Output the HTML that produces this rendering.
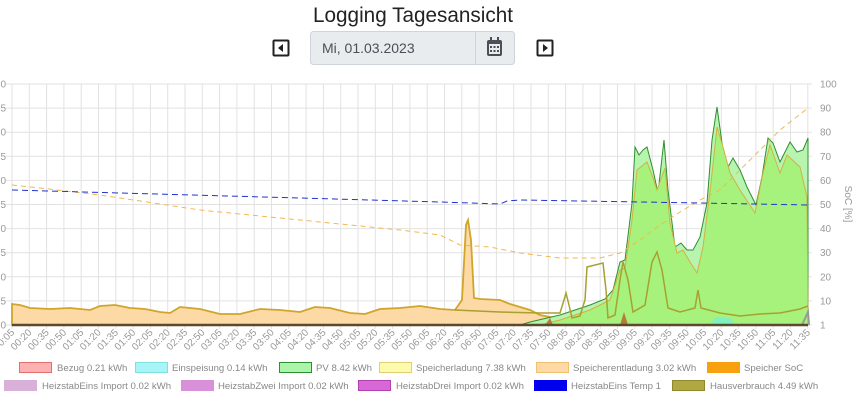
<!DOCTYPE html>
<html><head><meta charset="utf-8"><style>
body{margin:0;width:863px;height:420px;background:#fff;overflow:hidden;font-family:"Liberation Sans",sans-serif;}
svg{position:absolute;left:0;top:0}
</style></head><body>
<svg width="863" height="420" xmlns="http://www.w3.org/2000/svg" id="s">
<text x="413" y="22" font-size="21" text-anchor="middle" fill="#222" textLength="200" lengthAdjust="spacingAndGlyphs">Logging Tagesansicht</text>
<rect x="273.5" y="40.5" width="15" height="15" fill="none" stroke="#222" stroke-width="2" rx="1"/>
<path d="M283 44 L278 48 L283 52Z" fill="#222"/>
<rect x="537.5" y="40.5" width="15" height="15" fill="none" stroke="#222" stroke-width="2" rx="1"/>
<path d="M543 44 L548 48 L543 52Z" fill="#222"/>
<rect x="310.5" y="31.5" width="204" height="33" fill="#e9ecef" stroke="#ced4da" rx="3"/>
<line x1="475.5" y1="32" x2="475.5" y2="64" stroke="#ced4da"/>
<text x="322" y="53" font-size="14" fill="#495057">Mi, 01.03.2023</text>
<rect x="487" y="40" width="15" height="16" rx="2" fill="#495057"/>
<rect x="489" y="44" width="11" height="10" fill="#e9ecef"/>
<g fill="#495057"><rect x="490" y="46" width="2" height="2"/><rect x="493.5" y="46" width="2" height="2"/><rect x="497" y="46" width="2" height="2"/><rect x="490" y="50" width="2" height="2"/><rect x="493.5" y="50" width="2" height="2"/><rect x="497" y="50" width="2" height="2"/><rect x="490" y="37" width="2" height="4"/><rect x="497" y="37" width="2" height="4"/></g>
<g id="grid" stroke="#e2e2e2" stroke-width="1"></g>
<g id="lbl" font-size="10" fill="#999"></g>
<path d="M12 325 L12 304 L20 305 L30 308 L50 309 L70 308 L90 310 L100 306 L115 305 L130 308 L145 309 L160 312 L170 313 L180 307 L200 309 L220 314 L240 314 L260 309 L280 310 L300 312 L315 307 L330 308 L350 313 L365 314 L380 309 L400 308 L420 306 L440 309 L455 310 L462 300 L466 225 L468 220 L471 240 L474 298 L480 299 L500 300 L510 304 L530 310 L540 315 L555 318 L570 322 L570 325Z" fill="#fdd9a6" stroke="#cfa52a" stroke-width="1.8"/>
<path d="M520 325 L530 322 L560 315 L590 305 L605 299 L613 290 L620 262 L625 260 L632 203 L635 147 L639 155 L643 150 L647 147 L653 170 L658 193 L664 140 L668 190 L675 247 L681 243 L687 250 L693 250 L700 237 L707 203 L712 140 L717 107 L723 150 L728 167 L733 158 L740 170 L747 187 L756 205 L762 177 L768 138 L773 143 L780 162 L790 142 L797 152 L803 150 L808 138 L808 325Z" fill="#b6f4b0" stroke="#2f8f2f" stroke-width="1"/>
<path d="M540 325 L560 320 L590 310 L610 300 L620 270 L625 268 L632 220 L637 170 L647 162 L652 175 L657 190 L665 168 L670 223 L677 253 L683 250 L690 262 L697 273 L703 247 L711 183 L717 127 L723 147 L730 173 L740 190 L755 213 L763 173 L770 145 L780 173 L787 155 L800 167 L807 197 L808 325Z" fill="#a7f27c" stroke="#d4b040" stroke-width="1"/>
<path d="M455 310 L500 312 L540 313 L560 313 L564 300 L566 293 L569 305 L572 318 L580 316 L585 300 L587 267 L603 263 L606 290 L608 318 L615 315 L620 280 L623 262 L628 280 L633 312 L645 305 L652 262 L657 252 L662 270 L668 308 L680 312 L695 308 L698 290 L701 308 L720 313 L740 316 L760 314 L780 313 L800 309 L808 306" fill="none" stroke="#a8a030" stroke-width="1.5"/>
<path d="M545 325 L550 318 L553 325Z M620 325 L624 312 L628 325Z" fill="#b87a3a"/>
<path d="M710 325 L716 317 L730 318 L735 325Z" fill="#7ff0c0"/>
<path d="M802 325 L808 312 L809 325" fill="none" stroke="#999" stroke-width="2"/>
<line x1="12" y1="325" x2="808" y2="325" stroke="#5a4a2a" stroke-width="2.5"/>
<path d="M12 185 L40 188 L100 195 L200 210 L300 220 L400 230 L440 235 L460 245 L490 247 L520 253 L560 258 L600 258 L620 253 L640 240 L660 225 L680 212 L700 200 L720 190 L740 170 L760 150 L780 130 L808 108" fill="none" stroke="#f3b84a" stroke-width="1" stroke-dasharray="5,4"/>
<path d="M12 190 L120 193 L300 198 L440 202 L500 204 L507 201 L520 200 L700 203 L808 205" fill="none" stroke="#2233cc" stroke-width="1" stroke-dasharray="6,4"/>
<text transform="translate(845,204) rotate(90)" font-size="10" fill="#999" text-anchor="middle">SoC [%]</text>
<g font-size="9.6" fill="#888">
<rect x="19.5" y="362.5" width="32" height="10" fill="#ffb0b0" stroke="#e07070"/><text x="57" y="371">Bezug 0.21 kWh</text>
<rect x="135.5" y="362.5" width="32" height="10" fill="#a8f5f5" stroke="#80e0e0"/><text x="172" y="371">Einspeisung 0.14 kWh</text>
<rect x="279.5" y="362.5" width="32" height="10" fill="#aaf5aa" stroke="#2f8f2f"/><text x="316" y="371">PV 8.42 kWh</text>
<rect x="379.5" y="362.5" width="32" height="10" fill="#fbfbb0" stroke="#e0d070"/><text x="416" y="371">Speicherladung 7.38 kWh</text>
<rect x="536.5" y="362.5" width="32" height="10" fill="#fdd9a6" stroke="#f0c070"/><text x="573" y="371">Speicherentladung 3.02 kWh</text>
<rect x="707" y="362" width="33" height="11" fill="#f8a010"/><text x="744" y="371">Speicher SoC</text>
<rect x="4" y="380" width="33" height="11" fill="#d8b0d8"/><text x="42" y="389">HeizstabEins Import 0.02 kWh</text>
<rect x="181" y="380" width="33" height="11" fill="#d890d8"/><text x="218" y="389">HeizstabZwei Import 0.02 kWh</text>
<rect x="358.5" y="380.5" width="32" height="10" fill="#d868d8" stroke="#b040b0"/><text x="396" y="389">HeizstabDrei Import 0.02 kWh</text>
<rect x="534" y="380" width="33" height="11" fill="#0000ee"/><text x="571" y="389">HeizstabEins Temp 1</text>
<rect x="672.5" y="380.5" width="32" height="10" fill="#b0a840" stroke="#908830"/><text x="710" y="389">Hausverbrauch 4.49 kWh</text>
</g>
</svg>
<script>
var ns="http://www.w3.org/2000/svg",g=document.getElementById('grid'),l=document.getElementById('lbl');
function el(p,t,a,txt){var e=document.createElementNS(ns,t);for(var k in a)e.setAttribute(k,a[k]);if(txt)e.textContent=txt;p.appendChild(e);}
for(var i=0;i<=10;i++){var y=84+i*24.1;el(g,'line',{x1:6,x2:812,y1:y,y2:y});
el(l,'text',{x:820,y:y+3.5},i==10?'1':String(100-i*10));
el(l,'text',{x:6,y:y+3.5,'text-anchor':'end'},String((10-i)*5%10));}
for(var j=0;j<=46;j++){var x=12+j*17.3;el(g,'line',{x1:x,x2:x,y1:84,y2:329});
var m=5+j*15,h=Math.floor(m/60),mm=m%60;var s=(h<10?'0':'')+h+':'+(mm<10?'0':'')+mm;
el(l,'text',{x:x+3,y:333,'text-anchor':'end',transform:'rotate(-45 '+(x+3)+' 333)'},s);}
</script>
</body></html>
